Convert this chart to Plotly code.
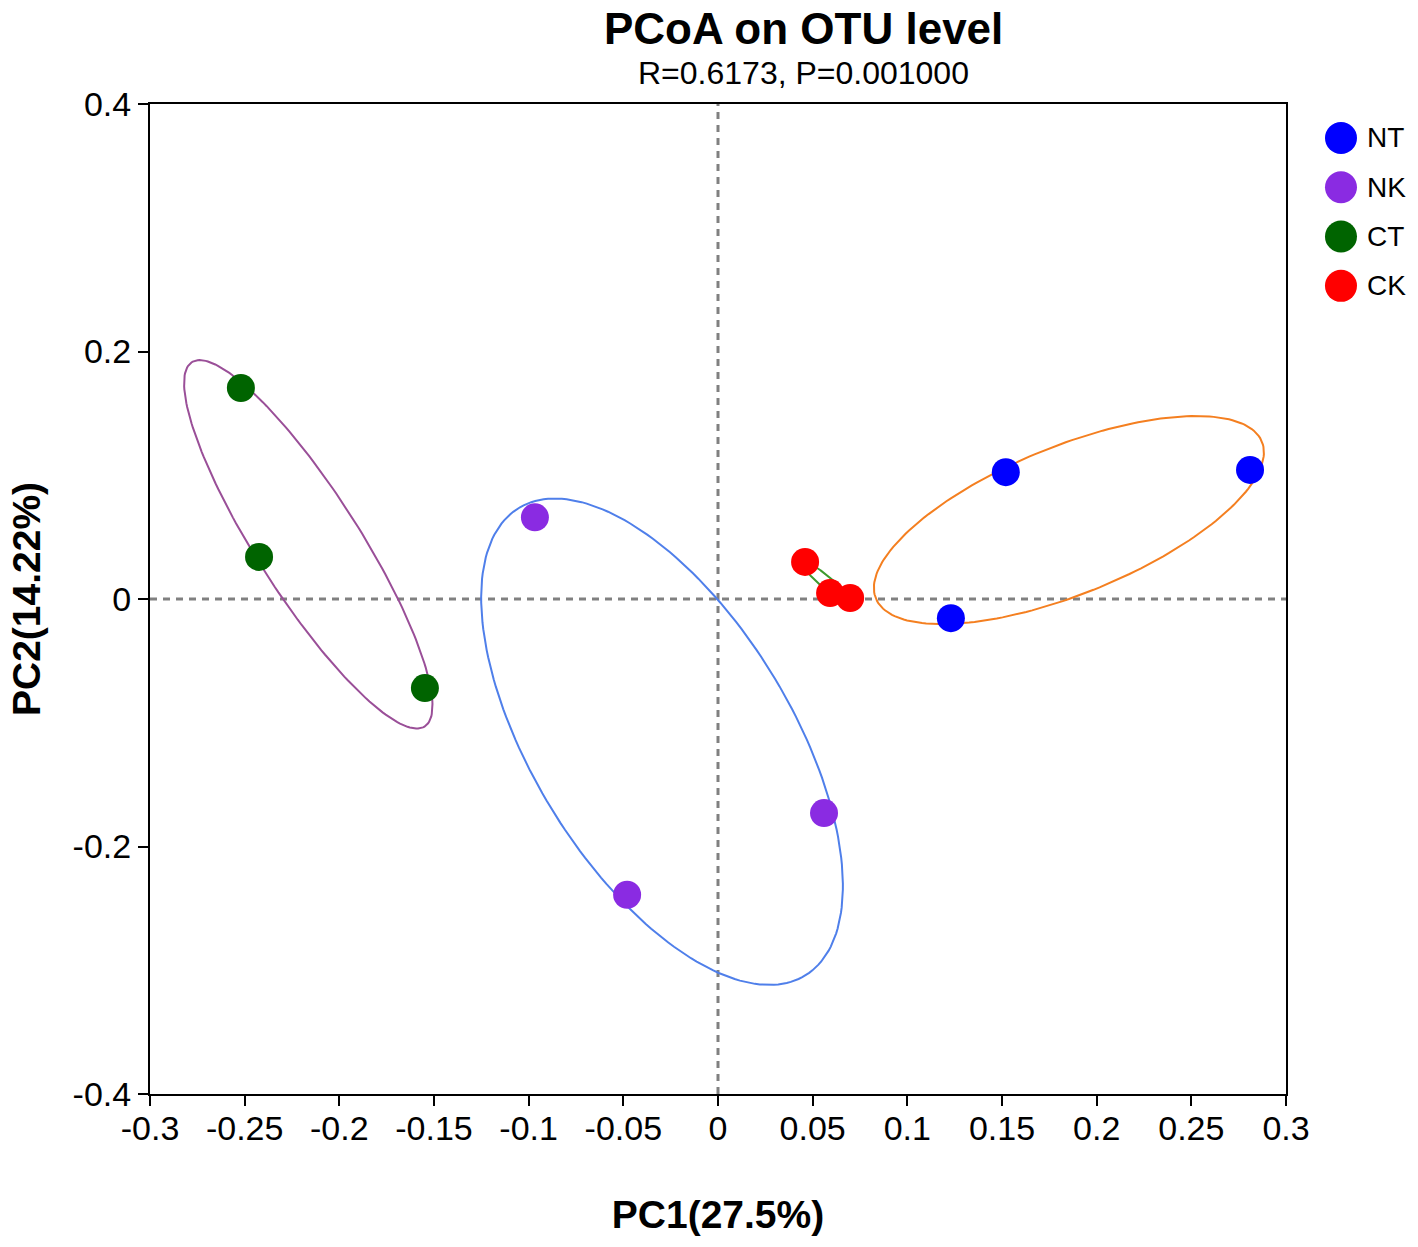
import numpy as np
import plotly.graph_objects as go

groups = ["NT", "NK", "CT", "CK"]
marker_colors = ["#0000FF", "#8A2BE2", "#006400", "#FF0000"]
ellipse_colors = ["#F47F20", "#4F7FEA", "#9A4F98", "#3E9A2E"]

pc1 = {
    "NT": [0.152, 0.281, 0.123],
    "NK": [-0.0967, 0.056, -0.048],
    "CT": [-0.252, -0.2424, -0.1548],
    "CK": [0.046, 0.0592, 0.0698],
}
pc2 = {
    "NT": [0.1025, 0.1043, -0.0155],
    "NK": [0.066, -0.173, -0.239],
    "CT": [0.1705, 0.034, -0.072],
    "CK": [0.030, 0.0048, 0.0008],
}

x_ticks = [-0.3, -0.25, -0.2, -0.15, -0.1, -0.05, 0, 0.05, 0.1, 0.15, 0.2, 0.25, 0.3]
x_labels = ["-0.3", "-0.25", "-0.2", "-0.15", "-0.1", "-0.05", "0", "0.05", "0.1", "0.15", "0.2", "0.25", "0.3"]
y_ticks = [-0.4, -0.2, 0, 0.2, 0.4]
y_labels = ["-0.4", "-0.2", "0", "0.2", "0.4"]

FONT = "Liberation Sans, Arial, sans-serif"


def ellipse(x, y, scale=1.5, n=200):
    # confidence-style ellipse from the group's covariance
    pts = np.vstack([x, y])
    mu = pts.mean(axis=1)
    cov = np.cov(pts)
    vals, vecs = np.linalg.eigh(cov)
    vals = np.clip(vals, 0, None)
    t = np.linspace(0, 2 * np.pi, n)
    circle = np.vstack([np.cos(t), np.sin(t)])
    e = vecs @ (np.sqrt(vals * scale)[:, None] * circle)
    return e[0] + mu[0], e[1] + mu[1]


fig = go.Figure()

# ellipses below the points
for g, col in zip(groups, ellipse_colors):
    ex, ey = ellipse(pc1[g], pc2[g])
    fig.add_trace(go.Scatter(x=ex, y=ey, mode="lines",
                             line=dict(color=col, width=2),
                             hoverinfo="skip", showlegend=False))

for g, col in zip(groups, marker_colors):
    fig.add_trace(go.Scatter(x=pc1[g], y=pc2[g], mode="markers", name=g,
                             marker=dict(color=col, size=28, line=dict(width=0)),
                             showlegend=False))

# dashed zero lines
shapes = [
    dict(type="line", xref="x", yref="paper", x0=0, x1=0, y0=0, y1=1,
         line=dict(color="#808080", width=3, dash="7px,6px"), layer="below"),
    dict(type="line", xref="paper", yref="y", x0=0, x1=1, y0=0, y1=0,
         line=dict(color="#808080", width=3, dash="7px,6px"), layer="below"),
]

# legend drawn by hand so the dots are as big as the reference
annotations = []
for i, (g, col) in enumerate(zip(groups, marker_colors)):
    ly = 0.9657 - i * 0.0498
    shapes.append(dict(type="circle", xref="paper", yref="paper",
                       xsizemode="pixel", ysizemode="pixel",
                       xanchor=1.0484, yanchor=ly,
                       x0=-16, x1=16, y0=-16, y1=16,
                       fillcolor=col, line=dict(width=0)))
    annotations.append(dict(text=g, xref="paper", yref="paper", x=1.0695, y=ly,
                            xanchor="left", yanchor="middle", showarrow=False,
                            font=dict(size=28, color="#000000", family=FONT)))

annotations.append(dict(text="<b>PCoA on OTU level</b>", xref="paper", yref="paper",
                        x=0.5757, y=1.0, yshift=76, xanchor="center", yanchor="middle",
                        showarrow=False, font=dict(size=44, color="#000000", family=FONT)))
annotations.append(dict(text="R=0.6173, P=0.001000", xref="paper", yref="paper",
                        x=0.5757, y=1.0, yshift=31, xanchor="center", yanchor="middle",
                        showarrow=False, font=dict(size=32, color="#000000", family=FONT)))

fig.update_layout(
    width=1418, height=1247,
    margin=dict(l=150, r=132, t=104, b=153),
    paper_bgcolor="white", plot_bgcolor="white",
    font=dict(family=FONT, color="#000000"),
    shapes=shapes, annotations=annotations,
    showlegend=False,
)

fig.update_xaxes(
    range=[-0.3, 0.3], tickvals=x_ticks, ticktext=x_labels,
    showgrid=False, zeroline=False,
    showline=True, linecolor="#000000", linewidth=2, mirror=True,
    ticks="outside", ticklen=10, tickwidth=2, tickcolor="#000000",
    tickfont=dict(size=34, family=FONT), ticklabelstandoff=-7,
    title=dict(text="<b>PC1(27.5%)</b>", font=dict(size=39, family=FONT), standoff=55),
)
fig.update_yaxes(
    range=[-0.4, 0.4], tickvals=y_ticks, ticktext=y_labels,
    showgrid=False, zeroline=False,
    showline=True, linecolor="#000000", linewidth=2, mirror=True,
    ticks="outside", ticklen=10, tickwidth=2, tickcolor="#000000",
    tickfont=dict(size=34, family=FONT),
    title=dict(text="<b>PC2(14.22%)</b>", font=dict(size=39, family=FONT), standoff=20),
)

# drop the page's default body margin so the figure fills the window exactly
fig.write_html("out.html", config={"displayModeBar": False},
               post_script="document.body.style.margin='0';")
